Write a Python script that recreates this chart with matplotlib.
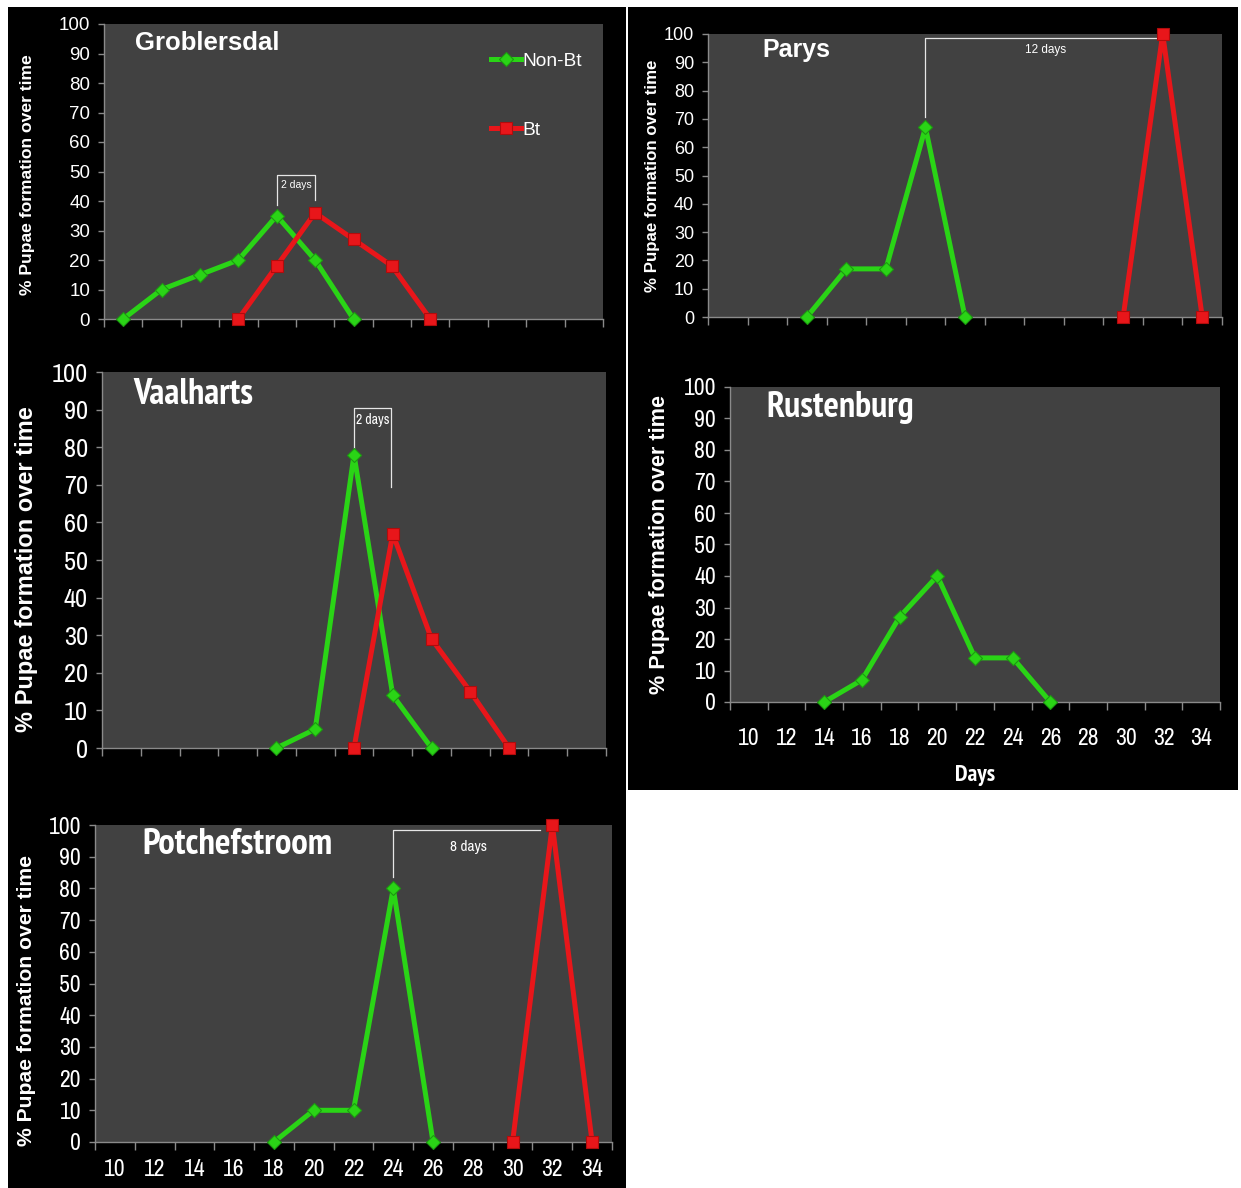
import matplotlib
matplotlib.use("Agg")
import matplotlib.pyplot as plt
from matplotlib.patches import Rectangle
from matplotlib import font_manager
import numpy as np

W, H = 1241, 1188
DPI = 100

# ---- data -------------------------------------------------------------
day_ticks = [10, 12, 14, 16, 18, 20, 22, 24, 26, 28, 30, 32, 34]
pct_ticks = [0, 10, 20, 30, 40, 50, 60, 70, 80, 90, 100]

grob_nonbt_days = [10, 12, 14, 16, 18, 20, 22]
grob_nonbt = [0, 10, 15, 20, 35, 20, 0]
grob_bt_days = [16, 18, 20, 22, 24, 26]
grob_bt = [0, 18, 36, 27, 18, 0]

parys_nonbt_days = [14, 16, 18, 20, 22]
parys_nonbt = [0, 17, 17, 67, 0]
parys_bt_days = [30, 32, 34]
parys_bt = [0, 100, 0]

vaal_nonbt_days = [18, 20, 22, 24, 26]
vaal_nonbt = [0, 5, 78, 14, 0]
vaal_bt_days = [22, 24, 26, 28, 30]
vaal_bt = [0, 57, 29, 15, 0]

rust_nonbt_days = [14, 16, 18, 20, 22, 24, 26]
rust_nonbt = [0, 7, 27, 40, 14, 14, 0]

potch_nonbt_days = [18, 20, 22, 24, 26]
potch_nonbt = [0, 10, 10, 80, 0]
potch_bt_days = [30, 32, 34]
potch_bt = [0, 100, 0]

# ---- style ------------------------------------------------------------
PLOT_BG = "#414141"
GREEN = "#2ad416"
RED = "#e8161a"
AXIS_GRAY = "#8a8a8a"
YLABEL = "% Pupae formation over time"

installed = {f.name for f in font_manager.fontManager.ttflist}


def pick(*cands):
    for c in cands:
        if c in installed:
            return c
    return "DejaVu Sans"


REG = pick("Liberation Sans", "Arimo")
NARROW = pick("Archivo Narrow", "PT Sans Narrow", "Liberation Sans Narrow")
NARROW_BOLD = pick("PT Sans Narrow", "Liberation Sans Narrow", "Archivo Narrow")

fig = plt.figure(figsize=(W / DPI, H / DPI), dpi=DPI, facecolor="white")


def fx(x):
    return x / W


def fy(y):
    return 1 - y / H


# black panel backgrounds
for (x0, y0, x1, y1) in [(8, 7, 626, 1188), (628, 7, 1238, 790)]:
    fig.patches.append(Rectangle((fx(x0), fy(y1)), fx(x1) - fx(x0), fy(y0) - fy(y1),
                                 transform=fig.transFigure, facecolor="black",
                                 edgecolor="none", zorder=-10))


def make_axes(l, r, t, b, tick_font, tick_size, show_x, ylab_x, ylab_y, ylab_size, xpad=18):
    ax = fig.add_axes([fx(l), fy(b), fx(r) - fx(l), fy(t) - fy(b)])
    ax.set_facecolor(PLOT_BG)
    ax.set_xlim(9, 35)
    ax.set_ylim(0, 100)
    for s in ("top", "right"):
        ax.spines[s].set_visible(False)
    for s in ("left", "bottom"):
        ax.spines[s].set_color(AXIS_GRAY)
        ax.spines[s].set_linewidth(1.0)
    # category boundaries carry the tick marks, centres carry the labels
    ax.set_xticks(np.arange(9, 36, 2))
    ax.set_xticklabels([])
    ax.set_xticks(day_ticks, minor=True)
    if show_x:
        ax.set_xticklabels([str(d) for d in day_ticks], minor=True)
    else:
        ax.set_xticklabels([], minor=True)
    ax.tick_params(axis="x", which="major", direction="out", length=6,
                   color=AXIS_GRAY, width=1)
    ax.tick_params(axis="x", which="minor", length=0, pad=xpad,
                   labelcolor="white", labelsize=tick_size)
    ax.set_yticks(pct_ticks)
    ax.tick_params(axis="y", direction="out", length=4, color=AXIS_GRAY,
                   width=1, pad=6, labelcolor="white", labelsize=tick_size)
    for lab in ax.get_yticklabels() + ax.get_xticklabels(minor=True):
        lab.set_fontfamily(tick_font)
    fig.text(fx(ylab_x), fy(ylab_y), YLABEL, rotation=90, ha="center",
             va="center", color="white", fontsize=ylab_size, fontweight="bold",
             family=REG)
    return ax


def draw(ax, days, vals, kind, label=None):
    if kind == "nonbt":
        ax.plot(days, vals, color=GREEN, lw=3.6, marker="D", ms=7.5,
                mfc=GREEN, mec="#1c9a10", mew=0.8, clip_on=False, zorder=3,
                label=label)
    else:
        ax.plot(days, vals, color=RED, lw=3.6, marker="s", ms=9,
                mfc=RED, mec="#b00c0c", mew=0.8, clip_on=False, zorder=3,
                label=label)


def bracket(ax, pts, text, tx, ty, size, family):
    xs = [p[0] for p in pts]
    ys = [p[1] for p in pts]
    ax.plot(xs, ys, color="#e6e6e6", lw=0.9, zorder=2, clip_on=False)
    ax.text(tx, ty, text, color="white", fontsize=size, family=family,
            ha="center", va="center", zorder=4)


def title(x, y, text, size, family):
    fig.text(fx(x), fy(y), text, color="white", fontsize=size,
             fontweight="bold", family=family, ha="left", va="center")


# ---- Groblersdal ------------------------------------------------------
ax1 = make_axes(104, 603, 24, 319, REG, 13.5, False, 28, 175, 12.6)
draw(ax1, grob_nonbt_days, grob_nonbt, "nonbt", "Non-Bt")
draw(ax1, grob_bt_days, grob_bt, "bt", "Bt")
bracket(ax1, [(18, 38.5), (18, 48.8), (20, 48.8), (20, 40.5)], "2 days", 19, 45.5, 7.5, REG)
title(135, 43, "Groblersdal", 18.5, REG)
leg = ax1.legend(loc="upper left", bbox_to_anchor=(0.775, 0.903), frameon=False,
                 fontsize=13.8, labelspacing=2.7, handlelength=1.6,
                 handletextpad=0.05, borderpad=0, borderaxespad=0)
for t in leg.get_texts():
    t.set_color("white")
    t.set_fontfamily(REG)

# ---- Parys ------------------------------------------------------------
ax2 = make_axes(708, 1222, 34, 317, REG, 13, False, 653, 176, 12.2)
draw(ax2, parys_nonbt_days, parys_nonbt, "nonbt")
draw(ax2, parys_bt_days, parys_bt, "bt")
bracket(ax2, [(20, 70.5), (20, 98.6), (31.7, 98.6)], "12 days", 26.1, 94.2, 8.5, REG)
title(762, 50, "Parys", 18, REG)

# ---- Vaalharts --------------------------------------------------------
ax3 = make_axes(102, 606, 372, 748, NARROW, 19, False, 27, 569, 17)
draw(ax3, vaal_nonbt_days, vaal_nonbt, "nonbt")
draw(ax3, vaal_bt_days, vaal_bt, "bt")
bracket(ax3, [(22, 79.8), (22, 90.4), (23.9, 90.4), (23.9, 69.4)], "2 days", 22.95, 87.2, 10, NARROW)
title(133, 395, "Vaalharts", 26, NARROW_BOLD)

# ---- Rustenburg -------------------------------------------------------
ax4 = make_axes(730, 1220, 387, 702, NARROW, 17, True, 659, 545, 15.6, xpad=19)
draw(ax4, rust_nonbt_days, rust_nonbt, "nonbt")
title(766, 407, "Rustenburg", 26, NARROW_BOLD)
ax4.set_xlabel("Days", color="white", fontsize=17, fontweight="bold",
               family=NARROW_BOLD, labelpad=11)

# ---- Potchefstroom ----------------------------------------------------
ax5 = make_axes(95, 612, 825, 1142, NARROW, 17, True, 27, 1000, 15.2, xpad=12.5)
draw(ax5, potch_nonbt_days, potch_nonbt, "nonbt")
draw(ax5, potch_bt_days, potch_bt, "bt")
bracket(ax5, [(24, 83.6), (24, 98.4), (31.4, 98.4)], "8 days", 27.8, 93.1, 11, NARROW)
title(142, 845, "Potchefstroom", 26.5, NARROW_BOLD)

fig.savefig("out.png", dpi=DPI, facecolor="white")
